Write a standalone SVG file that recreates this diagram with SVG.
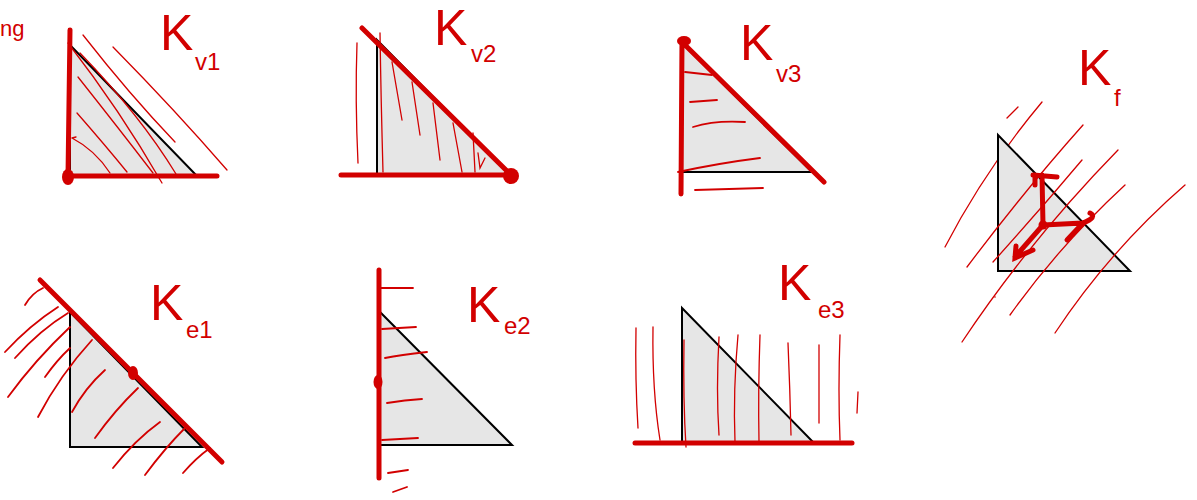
<svg xmlns="http://www.w3.org/2000/svg" width="1197" height="500" viewBox="0 0 1197 500">
<style>
.tri{fill:#e6e6e6;stroke:#000;stroke-width:2;stroke-linejoin:miter}
.thick{stroke:#d20000;stroke-width:5;stroke-linecap:round;fill:none}
.hatch{stroke:#d20000;stroke-width:1.3;stroke-linecap:round;fill:none}
.hatch2{stroke:#d20000;stroke-width:1.8;stroke-linecap:round;fill:none}
.dot{fill:#d20000}
.lbl{font-family:"Liberation Sans",Arial,sans-serif;fill:#d20000}
.big{font-size:50px}
.sub{font-size:24px}
</style>
<rect width="1197" height="500" fill="#fff"/>
<text class="lbl" x="0" y="36" font-size="22">ng</text>

<g id="Kv1">
<polygon class="tri" points="70,45 70,176 197,176"/>
<path class="hatch" d="M83,35 Q130,95 175,142"/>
<path class="hatch" d="M113,47 Q175,110 227,170"/>
<path class="hatch" d="M68,43 Q120,110 162,183"/>
<path class="hatch" d="M78,77 Q120,130 153,173"/>
<path class="hatch" d="M77,113 Q105,145 127,172"/>
<path class="hatch" d="M80,53 Q140,115 176,174"/>
<path class="hatch" d="M72,138 Q95,150 110,173 M72,138 L76,137"/>
<path class="thick" d="M70,30 L68,176 M68,176 L217,176"/>
<ellipse class="dot" cx="68" cy="177" rx="6" ry="8"/>
<text class="lbl big" x="160" y="50">K</text>
<text class="lbl sub" x="195" y="70">v1</text>
</g>

<g id="Kv2">
<polygon class="tri" points="377,40 377,175 510,175"/>
<path class="hatch" d="M357,43 Q355,100 358,163"/>
<path class="hatch" d="M380,33 Q381,100 383,172"/>
<path class="hatch" d="M392,62 L402,120"/>
<path class="hatch" d="M412,82 L420,135"/>
<path class="hatch" d="M433,103 L440,160"/>
<path class="hatch" d="M453,123 L462,172"/>
<path class="hatch" d="M473,133 L475,172 M478,153 L480,168 L485,158"/>
<path class="thick" d="M362,28 L512,176 M341,175 L510,175"/>
<circle class="dot" cx="511" cy="176" r="8"/>
<text class="lbl big" x="434" y="45">K</text>
<text class="lbl sub" x="471" y="62">v2</text>
</g>

<g id="Kv3">
<polygon class="tri" points="681,42 681,172 812,172"/>
<path class="hatch2" d="M685,72 L712,75"/>
<path class="hatch2" d="M690,102 L717,100"/>
<path class="hatch2" d="M693,127 Q715,120 745,122"/>
<path class="hatch2" d="M678,172 Q720,163 760,158"/>
<path class="hatch2" d="M695,190 L763,188"/>
<path class="thick" d="M682,40 L681,194 M682,42 L824,182"/>
<ellipse class="dot" cx="684" cy="41" rx="7" ry="5"/>
<text class="lbl big" x="740" y="60">K</text>
<text class="lbl sub" x="776" y="82">v3</text>
</g>

<g id="Kf">
<path class="hatch" d="M1007,118 L1018,107"/>
<path class="hatch" d="M945,247 Q985,170 1042,102"/>
<polygon class="tri" points="998,135 998,271 1130,271"/>
<path class="hatch" d="M962,342 Q1030,240 1118,150 M1010,315 Q1060,245 1125,185 M1055,333 Q1110,250 1185,185 M993,262 Q1040,210 1082,160 M967,267 Q1025,190 1083,125"/>
<circle class="dot" cx="995" cy="297" r="0.8"/>
<path class="thick" d="M1043,225 L1042,175 M1033,175 L1057,177 M1035,175 L1035,185"/>
<path class="thick" d="M1043,225 L1083,223 Q1098,217 1090,213 M1083,223 L1067,240"/>
<path class="thick" d="M1043,225 L1015,257 M1016,246 L1015,258 L1033,250"/>
<circle class="dot" cx="1043" cy="225" r="4.5"/>
<text class="lbl big" x="1078" y="85">K</text>
<text class="lbl sub" x="1114" y="106">f</text>
</g>

<g id="Ke1">
<polygon class="tri" points="70,312 70,447 202,447"/>
<path class="hatch2" d="M25,305 Q32,293 43,288"/>
<path class="hatch2" d="M5,352 Q30,325 58,307"/>
<path class="hatch2" d="M15,358 Q40,330 68,313"/>
<path class="hatch2" d="M8,397 Q35,360 70,327"/>
<path class="hatch2" d="M38,417 Q60,375 92,340"/>
<path class="hatch2" d="M45,377 Q57,360 70,348"/>
<path class="hatch2" d="M72,412 Q85,388 105,370"/>
<path class="hatch2" d="M95,438 Q115,410 138,388"/>
<path class="hatch2" d="M113,468 Q135,440 160,422"/>
<path class="hatch2" d="M145,475 Q165,448 185,428"/>
<path class="hatch2" d="M183,473 Q196,458 210,448"/>
<path class="thick" stroke-width="3.5" d="M40,280 L222,462"/>
<ellipse class="dot" cx="133" cy="373" rx="5" ry="7"/>
<text class="lbl big" x="150" y="320">K</text>
<text class="lbl sub" x="186" y="338">e1</text>
</g>

<g id="Ke2">
<polygon class="tri" points="380,312 380,445 512,445"/>
<path class="hatch2" d="M380,288 L413,288"/>
<path class="hatch2" d="M382,329 L416,327"/>
<path class="hatch2" d="M385,358 Q400,355 427,352"/>
<path class="hatch2" d="M387,403 Q405,400 422,399"/>
<path class="hatch2" d="M382,440 L418,438"/>
<path class="hatch2" d="M388,473 L408,470"/>
<path class="hatch2" d="M393,492 L407,487"/>
<path class="thick" stroke-width="3.5" d="M379,270 L379,478"/>
<ellipse class="dot" cx="378" cy="382" rx="4.5" ry="7"/>
<text class="lbl big" x="467" y="322">K</text>
<text class="lbl sub" x="504" y="334">e2</text>
</g>

<g id="Ke3">
<polygon class="tri" points="682,308 682,442 813,442"/>
<path class="hatch" d="M636,328 Q635,380 638,428"/>
<path class="hatch" d="M653,327 Q652,390 660,440"/>
<path class="hatch" d="M684,340 Q683,400 686,447"/>
<path class="hatch" d="M719,337 Q716,390 719,435"/>
<path class="hatch" d="M738,335 Q733,390 735,442"/>
<path class="hatch" d="M760,335 Q758,390 759,442"/>
<path class="hatch" d="M788,343 Q790,390 791,435"/>
<path class="hatch" d="M819,345 L819,423"/>
<path class="hatch" d="M840,335 Q838,390 840,440"/>
<path class="hatch" d="M858,392 L857,413"/>
<path class="thick" stroke-width="3" d="M635,443 L852,443"/>
<text class="lbl big" x="778" y="300">K</text>
<text class="lbl sub" x="818" y="318">e3</text>
</g>
</svg>
